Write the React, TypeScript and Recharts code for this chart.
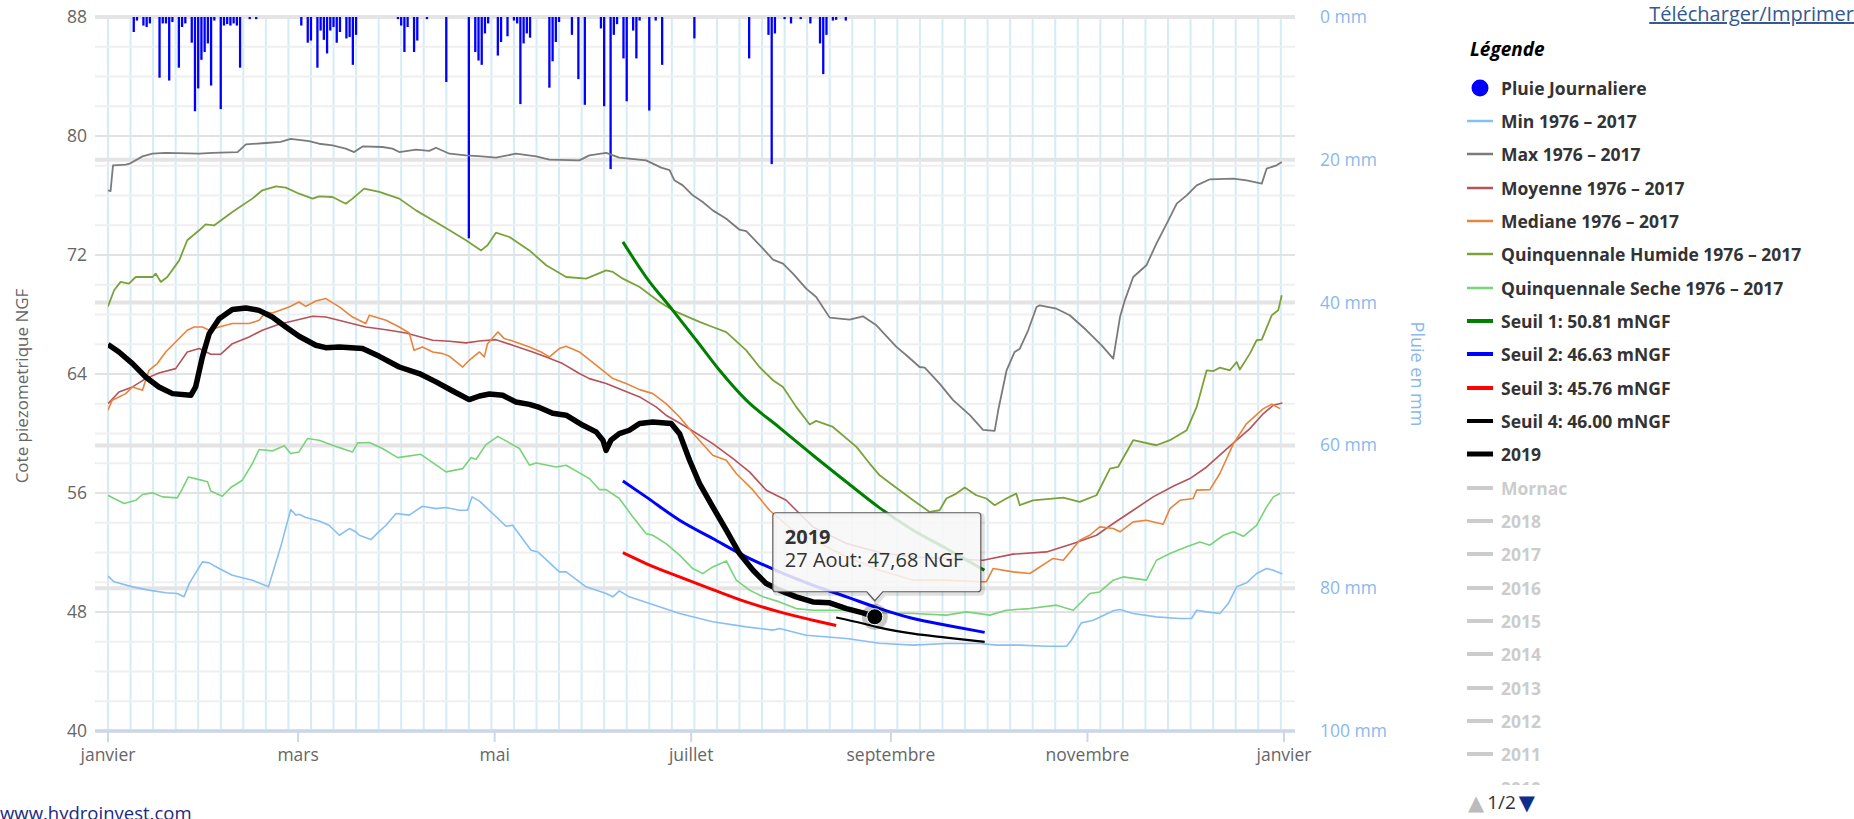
import React from 'react';
import { ComposedChart, Line, Bar, XAxis, YAxis, CartesianGrid, ReferenceDot } from 'recharts';

const W = 1854;
const H = 819;
const FONT = '"Open Sans", "DejaVu Sans", sans-serif';

// ---------- axes ----------
const monthTicks = [0, 59, 120, 181, 243, 304, 365];
const monthLabels = ['janvier', 'mars', 'mai', 'juillet', 'septembre', 'novembre', 'janvier'];
const weekLines = [0, 7, 14, 21, 28, 35, 42, 49, 56, 63, 70, 77, 84, 91, 98, 105, 112, 119, 126, 133, 140, 147, 154, 161, 168, 175, 182, 189, 196, 203, 210, 217, 224, 231, 238, 245, 252, 259, 266, 273, 280, 287, 294, 301, 308, 315, 322, 329, 336, 343, 350, 357, 364];
const levelTicks = [40, 48, 56, 64, 72, 80, 88];
const minorLevels = [42, 44, 46, 50, 52, 54, 58, 60, 62, 66, 68, 70, 74, 76, 78, 82, 84, 86];
const rainTicks = [0, 20, 40, 60, 80, 100];

// ---------- daily rain (day of year, mm) ----------
const rainDaily: [number, number][] = [
  [8, 2.1], [9, 0.5], [11, 1.2], [12, 1.4], [13, 0.9], [16, 8.5], [17, 0.9], [18, 0.9], [19, 8.9], [20, 0.7],
  [22, 7.1], [23, 1.4], [24, 0.9], [26, 3.6], [27, 13.2], [28, 10.0], [29, 6.0], [30, 4.9], [31, 3.7], [32, 9.6],
  [33, 0.5], [35, 12.9], [36, 1.2], [37, 1.0], [38, 1.2], [39, 0.9], [40, 1.2], [41, 7.1], [44, 0.3], [46, 0.3],
  [60, 1.2], [62, 3.6], [63, 3.3], [65, 7.1], [66, 1.9], [67, 3.2], [68, 5.1], [69, 1.9], [70, 1.4], [71, 3.6],
  [72, 2.1], [74, 3.0], [75, 2.8], [76, 6.7], [77, 2.5], [90, 0.3], [91, 1.2], [92, 4.9], [93, 1.4], [95, 4.9],
  [96, 3.3], [99, 0.3], [105, 9.1], [112, 31.0], [114, 4.9], [115, 6.1], [116, 6.7], [117, 2.3], [118, 0.9],
  [121, 5.4], [122, 3.5], [124, 2.7], [126, 0.5], [127, 0.9], [128, 12.2], [129, 3.7], [130, 2.3], [131, 2.9],
  [137, 9.9], [138, 6.2], [139, 3.5], [140, 0.7], [144, 2.5], [146, 8.7], [148, 12.3], [153, 1.6], [154, 12.5],
  [156, 21.3], [157, 2.5], [158, 1.0], [160, 5.8], [161, 11.8], [163, 1.9], [164, 5.8], [165, 0.5], [168, 13.1],
  [170, 0.5], [172, 6.7], [182, 3.0], [199, 5.8], [205, 2.5], [206, 20.6], [207, 2.3], [210, 0.3], [212, 0.9],
  [215, 0.3], [218, 0.9], [221, 3.7], [222, 8.0], [223, 2.5], [225, 0.5], [226, 0.4], [229, 0.5],
];

// ---------- piezometric series (day of year, m NGF) ----------
const minSeries: [number, number][] = [
  [0, 50.41], [1.9, 50.03], [7.6, 49.69], [12.7, 49.47], [17.9, 49.29], [21.5, 49.24], [23.6, 49.02], [25.2, 49.91],
  [29.3, 51.37], [31.4, 51.3], [34.5, 50.92], [38.6, 50.47], [44.8, 50.14], [49.8, 49.69], [53.6, 52.38], [56.7, 54.89],
  [58.3, 54.51], [59.3, 54.57], [61.4, 54.35], [65.5, 54.12], [68.6, 53.83], [71.8, 53.16], [74.9, 53.61], [76.9, 53.39],
  [78, 53.16], [81.6, 52.87], [83.7, 53.32], [86.3, 53.83], [89.4, 54.62], [93.5, 54.51], [97.6, 55.11], [101.8, 54.95],
  [104.9, 55.02], [109, 54.84], [111.6, 54.84], [113, 55.74], [115.3, 55.45], [119.4, 54.62], [123.5, 53.77],
  [125.6, 53.83], [131.3, 52.15], [133.4, 52.04], [140.1, 50.7], [142.2, 50.7], [148.4, 49.69], [154.6, 49.24],
  [156.7, 49.02], [158.7, 49.42], [161.8, 49.02], [168.1, 48.57], [177.4, 47.9], [187.7, 47.34], [198.1, 47.0],
  [206.4, 46.78], [208.4, 46.89], [216.7, 46.44], [229.2, 46.22], [239.5, 45.9], [249.9, 45.77], [260.2, 45.88],
  [270.6, 45.88], [275.7, 45.77], [283, 45.77], [291.3, 45.7], [297.5, 45.7], [299, 46.1], [302.1, 47.27],
  [305.8, 47.45], [312, 48.08], [314.1, 48.17], [318.2, 47.9], [325.4, 47.67], [332.7, 47.56], [336.3, 47.56],
  [337.9, 48.12], [341, 48.01], [345.1, 47.9], [347.7, 48.57], [350.3, 49.69], [353.4, 49.96], [356.5, 50.59],
  [359.6, 50.92], [361.7, 50.81], [364.5, 50.55],
];

const maxSeries: [number, number][] = [
  [0, 76.35], [0.8, 76.3], [1.55, 78.03], [5.5, 78.07], [6.7, 78.14], [10.7, 78.63], [13.8, 78.81], [17.9, 78.86],
  [28.3, 78.81], [32.4, 78.86], [40.2, 78.92], [42.8, 79.44], [49, 79.53], [53.6, 79.6], [56.7, 79.8], [62.4, 79.66],
  [65.5, 79.48], [69.7, 79.37], [73.8, 79.15], [76.4, 78.92], [79, 79.3], [85.2, 79.26], [88.3, 79.15], [90.4, 78.92],
  [95.6, 79.08], [99.7, 79.0], [101.8, 79.21], [106, 78.81], [111.1, 78.7], [116, 78.63], [120.4, 78.54],
  [126.6, 78.81], [132.9, 78.63], [137, 78.41], [146.3, 78.36], [149.4, 78.7], [154.6, 78.86], [158.7, 78.54],
  [167, 78.36], [171.7, 77.87], [174.3, 77.7], [175.8, 77.02], [178.4, 76.68], [181.5, 76.01], [184.6, 75.56],
  [187.7, 75.0], [191.9, 74.44], [196, 73.7], [198.1, 73.6], [203.3, 72.43], [206.4, 71.69], [209.5, 71.42],
  [212.6, 70.75], [216.7, 69.74], [219.8, 69.18], [224, 67.79], [230.2, 67.65], [234.3, 67.88], [238.5, 67.27],
  [244.7, 65.82], [247.8, 65.26], [251.9, 64.47], [253.5, 64.43], [258.1, 63.35], [262.3, 62.24], [267.5, 61.23],
  [271.6, 60.25], [275.2, 60.17], [276.3, 61.56], [278.9, 64.25], [281.4, 65.48], [283, 65.7], [285.6, 66.94],
  [288.2, 68.5], [289.2, 68.62], [294.4, 68.39], [298.5, 67.95], [303.7, 66.94], [308.4, 65.93], [312, 65.03],
  [314.1, 67.83], [315.6, 68.95], [318.2, 70.52], [322.3, 71.31], [325.4, 72.76], [328.6, 74.11], [331.7, 75.45],
  [334.8, 76.01], [337.9, 76.68], [342, 77.09], [349.3, 77.13], [353.4, 77.02], [358.1, 76.8], [359.6, 77.8],
  [362.7, 78.03], [364.3, 78.25],
];

const moyenneSeries: [number, number][] = [
  [0, 62.0], [3.4, 62.79], [7.6, 63.13], [11.7, 63.69], [15.8, 64.07], [21, 64.36], [24.6, 65.48], [28.3, 65.71],
  [31.9, 65.33], [35, 65.33], [38.6, 66.04], [43.8, 66.49], [47.9, 66.94], [53.1, 67.34], [58.3, 67.61], [63.5, 67.88],
  [67.6, 67.83], [73.8, 67.5], [80, 67.16], [86.3, 66.98], [92.5, 66.76], [97.6, 66.45], [100.8, 66.27], [106, 66.2],
  [111.1, 66.09], [115.3, 66.22], [120.4, 66.31], [125.6, 65.93], [131.8, 65.48], [136, 65.15], [141.1, 64.7],
  [146.3, 64.03], [149.4, 63.69], [154.6, 63.36], [159.8, 62.91], [165, 62.46], [170.1, 61.79], [173.2, 61.23],
  [179.5, 60.44], [187.7, 59.32], [194, 58.31], [199.1, 57.42], [204.3, 56.19], [210.5, 55.51], [213.6, 54.84],
  [218.8, 53.72], [229.2, 52.6], [239.5, 52.0], [250, 51.7], [260, 51.6], [271.6, 51.48], [280.9, 51.89],
  [291.3, 52.04], [299.6, 52.6], [306.8, 53.16], [312, 53.95], [318.2, 54.84], [324.4, 55.74], [330.6, 56.45],
  [335.8, 56.97], [341, 57.75], [346.2, 58.76], [350.3, 59.55], [354.4, 60.33], [358.6, 61.34], [361.7, 61.9],
  [364.5, 62.05],
];

const medianeSeries: [number, number][] = [
  [0, 61.56], [1.3, 62.24], [3.4, 62.46], [5.5, 62.68], [7.6, 63.13], [10.7, 62.91], [12.7, 64.25], [15.3, 64.7],
  [17.9, 65.48], [21, 66.15], [24.6, 66.94], [26.7, 67.16], [29.3, 67.16], [31.4, 66.94], [34.5, 67.16], [38.6, 67.39],
  [43.8, 67.39], [46.9, 67.61], [49, 68.17], [51, 68.1], [56.2, 68.51], [59.3, 68.84], [61.4, 68.55], [64.5, 68.91],
  [67.6, 69.07], [71.8, 68.51], [75.9, 67.83], [80, 67.39], [81.1, 67.95], [86.3, 67.61], [90.4, 67.16], [93.5, 66.76],
  [95, 65.59], [97.6, 65.82], [100.8, 65.48], [103.9, 65.37], [106, 65.19], [110.1, 64.47], [112.1, 64.92],
  [115.3, 65.48], [116.8, 65.15], [117.8, 66.04], [121, 66.83], [123, 66.38], [125.6, 66.22], [130.8, 65.82],
  [134.4, 65.48], [137, 65.15], [140.1, 65.71], [142.2, 65.86], [146.3, 65.48], [151.5, 64.59], [156.7, 63.69],
  [160.8, 63.36], [165, 62.95], [169.1, 62.68], [173.2, 62.01], [177.4, 61.11], [182.6, 59.77], [187.7, 58.54],
  [191.9, 58.2], [195, 57.31], [200.2, 56.19], [205.3, 54.84], [212, 53.6], [218.8, 52.83], [229.2, 51.71],
  [239.5, 50.81], [249.9, 50.14], [260.2, 50.14], [270.6, 50.03], [272.6, 50.03], [274.7, 50.92], [280.9, 50.7],
  [286.1, 50.59], [293.3, 51.6], [296.5, 51.48], [301.6, 52.83], [304.7, 53.16], [307.8, 53.72], [312, 53.61],
  [314.1, 53.39], [318.2, 54.06], [322.3, 54.17], [327.5, 53.9], [329.6, 54.95], [332.7, 55.51], [336.8, 55.63],
  [337.9, 56.19], [342, 56.23], [345.1, 57.31], [349.3, 59.32], [353.4, 60.67], [358.6, 61.67], [361.2, 61.97],
  [363.8, 61.67],
];

const humideSeries: [number, number][] = [
  [0, 68.55], [1.9, 69.63], [3.9, 70.19], [6.5, 70.08], [8.6, 70.52], [13.8, 70.52], [14.8, 70.75], [16.4, 70.19],
  [18.4, 70.52], [22.1, 71.64], [24.6, 72.99], [28.3, 73.66], [30.3, 74.06], [32.9, 73.99], [38.6, 74.89],
  [44.8, 75.79], [47.9, 76.35], [52.1, 76.62], [55.2, 76.53], [59.3, 76.12], [63.5, 75.79], [65.5, 75.94],
  [69.7, 75.9], [73.8, 75.45], [75.9, 75.79], [79.5, 76.46], [84.2, 76.24], [90.4, 75.79], [95.6, 75.0],
  [100.8, 74.33], [106, 73.66], [111.1, 72.99], [115.8, 72.31], [117.8, 72.65], [120.4, 73.5], [124.6, 73.21],
  [130.8, 72.31], [136, 71.31], [142.2, 70.52], [148.4, 70.41], [154.6, 70.97], [156.7, 70.86], [159.8, 70.41],
  [165, 69.85], [171.2, 68.84], [175.3, 68.28], [183.6, 67.5], [187.7, 67.16], [191.9, 66.82], [198.1, 65.59],
  [202.2, 64.47], [206.4, 63.58], [209.5, 63.13], [213.6, 61.79], [217.8, 60.6], [219.8, 60.85], [225, 60.44],
  [232.3, 59.1], [236.4, 57.98], [239.5, 57.19], [243.6, 56.52], [249.9, 55.51], [255, 54.73], [258.1, 54.84],
  [260.2, 55.63], [263.3, 55.96], [265.9, 56.37], [269.5, 55.85], [272.6, 55.63], [275.2, 55.18], [278.8, 55.63],
  [281.9, 55.96], [283, 55.18], [287.1, 55.51], [296.5, 55.69], [301.6, 55.4], [306.8, 55.85], [311, 57.64],
  [313.5, 57.75], [318.2, 59.55], [325.4, 59.21], [329.6, 59.55], [334.8, 60.22], [337.9, 61.79], [341, 64.25],
  [343.1, 64.2], [345.1, 64.43], [348.2, 64.25], [350.3, 64.81], [351.3, 64.3], [354.4, 65.37], [356.5, 66.27],
  [358.1, 66.31], [361.2, 67.95], [363.2, 68.28], [364.3, 69.29],
];

const secheSeries: [number, number][] = [
  [0, 55.85], [1.9, 55.63], [5, 55.29], [8.6, 55.51], [10.7, 55.9], [13.8, 56.01], [16.9, 55.74], [21.5, 55.67],
  [23.1, 56.3], [24.95, 57.08], [28.3, 56.9], [30.9, 56.75], [31.9, 56.14], [35.5, 55.78], [38.1, 56.37],
  [41.7, 56.86], [44.8, 57.98], [46.9, 58.92], [51, 58.83], [54.7, 59.17], [56.7, 58.65], [59.3, 58.76],
  [61.9, 59.66], [65.5, 59.55], [71.8, 59.05], [75.9, 58.76], [77.5, 59.37], [81.1, 59.39], [85.2, 58.99],
  [89.9, 58.38], [97.1, 58.6], [104.9, 57.42], [110.1, 57.64], [112.7, 58.38], [114.2, 58.25], [117.3, 59.25],
  [121, 59.81], [127.7, 58.99], [130.8, 57.87], [132.9, 58.02], [139.1, 57.75], [142.2, 57.87], [149.4, 56.97],
  [152.5, 56.23], [154.6, 56.23], [158.7, 55.63], [162.9, 54.39], [167, 53.27], [169.1, 53.16], [173.2, 52.6],
  [177.4, 51.82], [181.5, 50.92], [184.6, 50.58], [187.7, 51.03], [191.9, 51.43], [195, 50.14], [199.1, 49.47],
  [203.3, 49.02], [208.4, 48.68], [213.6, 48.23], [218.8, 48.12], [229.2, 48.12], [239.5, 47.95], [249.9, 47.9],
  [260.2, 47.79], [266.4, 48.01], [273.7, 47.79], [278.8, 48.12], [286.1, 48.23], [294.4, 48.46], [299.6, 48.12],
  [304.7, 49.24], [307.8, 49.35], [312, 50.14], [315.1, 50.36], [322.3, 50.14], [325.4, 51.48], [329.6, 51.93],
  [334.8, 52.38], [338.9, 52.71], [342, 52.49], [346.2, 53.16], [349.3, 53.39], [352.4, 53.09], [356.5, 53.83],
  [359.6, 55.07], [361.7, 55.74], [363.8, 55.96],
];

const seuil1Series: [number, number][] = [
  [159.8, 72.88], [167, 70.52], [175.3, 68.28], [182.6, 66.27], [189.8, 64.25], [198.1, 62.24], [208.4, 60.4],
  [218.8, 58.54], [229.2, 56.74], [239.5, 55.0], [249.9, 53.5], [260.2, 52.27], [272, 50.81],
];
const seuil2Series: [number, number][] = [
  [159.8, 56.81], [167, 55.74], [177.4, 54.17], [187.7, 52.94], [198.1, 51.71], [208.4, 50.7], [218.8, 49.8],
  [229.2, 49.02], [239.5, 48.23], [249.9, 47.56], [260.2, 47.11], [272.1, 46.63],
];
const seuil3Series: [number, number][] = [
  [159.8, 51.99], [167, 51.26], [177.4, 50.36], [187.7, 49.51], [198.1, 48.68], [208.4, 48.01], [218.8, 47.45],
  [226, 47.09],
];
const seuil4Series: [number, number][] = [
  [226, 47.63], [234.3, 47.23], [239.5, 46.95], [249.9, 46.55], [260.2, 46.28], [272.1, 45.99],
];

const year2019Series: [number, number][] = [
  [0, 65.98], [3.4, 65.48], [7.6, 64.7], [11.7, 63.8], [15.8, 63.13], [20, 62.68], [25.7, 62.57], [27.2, 63.13],
  [29.3, 65.15], [31.4, 66.71], [34.5, 67.72], [38.6, 68.33], [42.8, 68.44], [46.9, 68.28], [51, 67.83], [55.2, 67.16],
  [59.3, 66.54], [64.5, 65.93], [67.6, 65.77], [71.8, 65.82], [79, 65.71], [84.2, 65.19], [90.4, 64.47], [96.6, 64.03],
  [101.8, 63.47], [107, 62.86], [112.1, 62.28], [115.3, 62.52], [118.4, 62.66], [122.5, 62.57], [126.6, 62.12],
  [130.8, 61.96], [133.9, 61.75], [138, 61.36], [142.2, 61.23], [147.4, 60.55], [151.5, 60.11], [153.6, 59.55],
  [154.6, 58.87], [156.1, 59.55], [158.7, 59.99], [161.8, 60.22], [165, 60.67], [169.1, 60.78], [174.8, 60.67],
  [177.4, 59.99], [180.5, 58.2], [183.6, 56.63], [187.7, 55.07], [191.9, 53.5], [196, 51.93], [200.2, 50.81],
  [204.3, 49.91], [208.4, 49.47], [213.6, 49.02], [218.8, 48.68], [224, 48.62], [229.2, 48.23], [234.3, 47.94],
  [238, 47.68],
];

// tooltip point
const tipDay = 238;
const tipValue = 47.68;
const tipTitle = '2019';
const tipText = '27 Aout: 47,68 NGF';

// ---------- legend ----------
const legendNames = [
  'Pluie Journaliere', 'Min 1976 – 2017', 'Max 1976 – 2017', 'Moyenne 1976 – 2017', 'Mediane 1976 – 2017',
  'Quinquennale Humide 1976 – 2017', 'Quinquennale Seche 1976 – 2017', 'Seuil 1: 50.81 mNGF', 'Seuil 2: 46.63 mNGF',
  'Seuil 3: 45.76 mNGF', 'Seuil 4: 46.00 mNGF', '2019',
];
const hiddenLegendNames = ['Mornac', '2018', '2017', '2016', '2015', '2014', '2013', '2012', '2011', '2010'];
const pagerText = '1/2';

// styles
const C = {
  rain: '#0000ff',
  min: '#88bff2',
  max: '#7b7b7b',
  moy: '#b65258',
  med: '#e8843c',
  hum: '#7ba23a',
  sec: '#79d379',
  s1: '#008000',
  s2: '#0000ff',
  s3: '#ff0000',
  s4: '#000000',
  y2019: '#000000',
};
const legendStyle = [
  { color: C.rain, w: 0 },
  { color: C.min, w: 2.5 },
  { color: C.max, w: 2.5 },
  { color: C.moy, w: 2.5 },
  { color: C.med, w: 2.5 },
  { color: C.hum, w: 2.5 },
  { color: C.sec, w: 2.5 },
  { color: C.s1, w: 4 },
  { color: C.s2, w: 4 },
  { color: C.s3, w: 4 },
  { color: C.s4, w: 4 },
  { color: C.y2019, w: 5 },
];

const pts = (a: [number, number][]) => a.map(([d, v]) => ({ d, v }));
const rainData = rainDaily.map(([d, mm]) => ({ d, rain: mm }));

const XTick = (props: any) => {
  const { x, y, payload } = props;
  const i = monthTicks.indexOf(payload.value);
  return (
    <text x={x} y={y + 15} textAnchor="middle" fill="#666666" fontSize={17.5} fontFamily={FONT}>
      {monthLabels[i]}
    </text>
  );
};
const LeftTick = (props: any) => {
  const { x, y, payload } = props;
  return (
    <text x={x} y={y + 6} textAnchor="end" fill="#666666" fontSize={17.5} fontFamily={FONT}>
      {payload.value}
    </text>
  );
};
const RightTick = (props: any) => {
  const { x, y, payload } = props;
  return (
    <text x={x} y={y + 6} textAnchor="start" fill="#8ab8ec" fontSize={17.5} fontFamily={FONT}>
      {payload.value + ' mm'}
    </text>
  );
};

const LeftTitle = (props: any) => {
  const vb = props.viewBox || {};
  const cx = vb.x + 21;
  const cy = vb.y + vb.height / 2 + 12;
  return (
    <text x={cx} y={cy} transform={`rotate(-90 ${cx} ${cy})`} textAnchor="middle" dominantBaseline="central"
      fill="#666666" fontSize={17} fontFamily={FONT}>
      Cote piezometrique NGF
    </text>
  );
};
const RightTitle = (props: any) => {
  const vb = props.viewBox || {};
  const cx = vb.x + 123;
  const cy = vb.y + vb.height / 2;
  return (
    <text x={cx} y={cy} transform={`rotate(90 ${cx} ${cy})`} textAnchor="middle" dominantBaseline="central"
      fill="#8ab8ec" fontSize={18} fontFamily={FONT}>
      Pluie en mm
    </text>
  );
};

// rain bar: keep the library's position/extent, draw a narrow column centred on it
const RainBar = (props: any) => {
  const { x, y, width, height } = props;
  if (x == null || y == null || !height) return null;
  const cx = x + (width || 0) / 2;
  const top = Math.min(y, y + height);
  return <rect x={cx - 1.15} y={top} width={2.3} height={Math.abs(height)} fill={C.rain} />;
};

const TipShape = (props: any) => {
  const { cx, cy } = props;
  if (cx == null || cy == null) return null;
  const bw = 208;
  const bh = 79;
  const bx = cx - 102;
  const by = cy - 104;
  const r = 3;
  const bb = by + bh;
  const d = `M${bx + r},${by} H${bx + bw - r} Q${bx + bw},${by} ${bx + bw},${by + r} V${bb - r} Q${bx + bw},${bb} ${bx + bw - r},${bb} H${cx + 8} L${cx},${bb + 9} L${cx - 8},${bb} H${bx + r} Q${bx},${bb} ${bx},${bb - r} V${by + r} Q${bx},${by} ${bx + r},${by} Z`;
  return (
    <g>
      <path d={d} transform="translate(2,2)" fill="none" stroke="rgba(0,0,0,0.12)" strokeWidth={4} />
      <path d={d} fill="rgba(247,247,247,0.86)" stroke="#5a5a5a" strokeWidth={1.2} />
      <text x={bx + 12} y={by + 31} fill="#333333" fontSize={20} fontWeight="bold" fontFamily={FONT}>{tipTitle}</text>
      <text x={bx + 12} y={by + 54} fill="#333333" fontSize={20} fontFamily={FONT}>{tipText}</text>
      <circle cx={cx} cy={cy} r={13} fill="rgba(0,0,0,0.22)" />
      <circle cx={cx} cy={cy} r={8} fill="#000000" stroke="#ffffff" strokeWidth={1} />
    </g>
  );
};

const lineCommon = {
  yAxisId: 'left',
  dataKey: 'v',
  dot: false,
  activeDot: false,
  isAnimationActive: false,
  strokeLinejoin: 'round' as const,
};

export default function App() {
  const rowH = 33.33;
  const rowTop0 = 71;
  return (
    <div style={{ position: 'absolute', left: 0, top: 0, width: W, height: H, background: '#ffffff', overflow: 'hidden', fontFamily: FONT }}>
      <ComposedChart width={W} height={H} data={rainData} margin={{ top: 17, right: 0, bottom: 48, left: 0 }}>
        <CartesianGrid yAxisId="left" vertical horizontal={false} verticalValues={weekLines} stroke="#d3ecf8" strokeWidth={2} />
        <CartesianGrid yAxisId="left" vertical={false} horizontalValues={minorLevels} stroke="#efefef" strokeWidth={2} />
        <CartesianGrid yAxisId="left" vertical={false} horizontalValues={levelTicks} stroke="#e2e2e2" strokeWidth={2} />
        <CartesianGrid yAxisId="rain" vertical={false} horizontalValues={rainTicks} stroke="#e4e4e4" strokeWidth={4} />

        <XAxis dataKey="d" type="number" domain={[0, 365]} ticks={monthTicks} interval={0}
          padding={{ left: 13, right: 11 }} height={40} allowDataOverflow
          axisLine={{ stroke: '#ccd6eb', strokeWidth: 3 }} tickLine={{ stroke: '#ccd6eb', strokeWidth: 2 }}
          tickSize={11} tickMargin={4} tick={<XTick />} />
        <YAxis yAxisId="left" orientation="left" domain={[40, 88]} ticks={levelTicks} interval={0} width={95}
          axisLine={false} tickLine={false} tickSize={0} tickMargin={8} tick={<LeftTick />} allowDataOverflow
          label={{ content: <LeftTitle /> }} />
        <YAxis yAxisId="rain" orientation="right" domain={[0, 100]} reversed ticks={rainTicks} interval={0} width={559}
          axisLine={false} tickLine={false} tickSize={0} tickMargin={25} tick={<RightTick />} allowDataOverflow
          label={{ content: <RightTitle /> }} />

        <Line {...lineCommon} data={pts(minSeries)} stroke={C.min} strokeWidth={1.6} type="linear" />
        <Line {...lineCommon} data={pts(maxSeries)} stroke={C.max} strokeWidth={1.8} type="linear" />
        <Line {...lineCommon} data={pts(moyenneSeries)} stroke={C.moy} strokeWidth={1.6} type="linear" />
        <Line {...lineCommon} data={pts(medianeSeries)} stroke={C.med} strokeWidth={1.6} type="linear" />
        <Line {...lineCommon} data={pts(humideSeries)} stroke={C.hum} strokeWidth={1.8} type="linear" />
        <Line {...lineCommon} data={pts(secheSeries)} stroke={C.sec} strokeWidth={1.6} type="linear" />
        <Line {...lineCommon} data={pts(seuil1Series)} stroke={C.s1} strokeWidth={3} type="monotone" />
        <Line {...lineCommon} data={pts(seuil2Series)} stroke={C.s2} strokeWidth={3} type="monotone" />
        <Line {...lineCommon} data={pts(seuil3Series)} stroke={C.s3} strokeWidth={3} type="monotone" />
        <Line {...lineCommon} data={pts(seuil4Series)} stroke={C.s4} strokeWidth={2.2} type="monotone" />
        <Line {...lineCommon} data={pts(year2019Series)} stroke={C.y2019} strokeWidth={5.5} type="linear" />
        <Bar yAxisId="rain" dataKey="rain" fill={C.rain} barSize={3} isAnimationActive={false} shape={(p: any) => <RainBar {...p} />} />

        <ReferenceDot yAxisId="left" x={tipDay} y={tipValue} r={8} shape={(p: any) => <TipShape {...p} />} ifOverflow="visible" />
      </ComposedChart>

      {/* download link */}
      <div style={{ position: 'absolute', right: 0, top: 1, fontSize: 20, color: '#36598f', textDecoration: 'underline', whiteSpace: 'nowrap', lineHeight: '26px' }}>
        Télécharger/Imprimer
      </div>

      {/* legend */}
      <div style={{ position: 'absolute', left: 1470, top: 36, fontSize: 19, fontWeight: 'bold', fontStyle: 'italic', color: '#000', lineHeight: '26px' }}>
        Légende
      </div>
      <div style={{ position: 'absolute', left: 1466, top: rowTop0, width: 388, height: 785 - rowTop0, overflow: 'hidden' }}>
        {legendNames.map((name, i) => (
          <div key={name} style={{ position: 'absolute', left: 0, top: i * rowH, height: rowH, display: 'flex', alignItems: 'center', whiteSpace: 'nowrap' }}>
            <svg width={27} height={20} style={{ marginRight: 8 }}>
              {legendStyle[i].w === 0 ? (
                <circle cx={14} cy={10} r={8.5} fill={legendStyle[i].color} />
              ) : (
                <line x1={1} x2={27} y1={10} y2={10} stroke={legendStyle[i].color} strokeWidth={legendStyle[i].w} />
              )}
            </svg>
            <span style={{ fontSize: 17.5, fontWeight: 'bold', color: '#333333' }}>{name}</span>
          </div>
        ))}
        {hiddenLegendNames.map((name, j) => (
          <div key={'h' + name + j} style={{ position: 'absolute', left: 0, top: (legendNames.length + j) * rowH, height: rowH, display: 'flex', alignItems: 'center', whiteSpace: 'nowrap' }}>
            <svg width={27} height={20} style={{ marginRight: 8 }}>
              <line x1={1} x2={27} y1={10} y2={10} stroke="#cccccc" strokeWidth={4} />
            </svg>
            <span style={{ fontSize: 17.5, fontWeight: 'bold', color: '#cccccc' }}>{name}</span>
          </div>
        ))}
      </div>
      <div style={{ position: 'absolute', left: 1468, top: 789, height: 26, display: 'flex', alignItems: 'center', fontSize: 19, whiteSpace: 'nowrap' }}>
        <span style={{ color: '#bbbbbb', fontSize: 21 }}>▲</span>
        <span style={{ color: '#333333', margin: '0 3px' }}>{pagerText}</span>
        <span style={{ color: '#0d2d8c', fontSize: 21 }}>▼</span>
      </div>

      {/* footer */}
      <div style={{ position: 'absolute', left: 0, top: 800, fontSize: 18.5, color: '#1b2a80', whiteSpace: 'nowrap', lineHeight: '26px' }}>
        www.hydroinvest.com
      </div>
    </div>
  );
}
